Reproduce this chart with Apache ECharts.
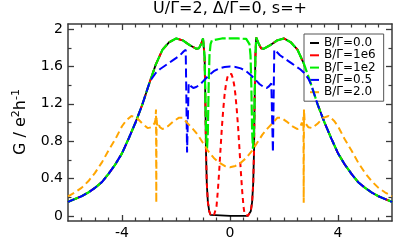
<!DOCTYPE html>
<html><head><meta charset="utf-8">
<script src="https://cdn.jsdelivr.net/npm/echarts@6/dist/echarts.min.js"></script>
<style>html,body{margin:0;padding:0;background:#fff}#c{width:395px;height:240px}</style>
</head><body><div id="c"></div>
<script>
const chartTitle = 'U/Γ=2, Δ/Γ=0, s=+';
const seriesNames = ['B/Γ=0.0', 'B/Γ=1e6', 'B/Γ=1e2', 'B/Γ=0.5', 'B/Γ=2.0'];
const xTickLabels = [-4, 0, 4];
const yTickLabels = [0, 0.4, 0.8, 1.2, 1.6, 2];
const xMinorTicks = [-5.5,-5,-4.5,-3.5,-3,-2.5,-2,-1.5,-1,-0.5,0.5,1,1.5,2,2.5,3,3.5,4.5,5,5.5];
const yMinorTicks = [0.2, 0.6, 1.0, 1.4, 1.8];

// B/Γ=0.0
const xB00 = [-6,-5.75,-5.5,-5.25,-5,-4.75,-4.5,-4.25,-4,-3.75,-3.5,-3.25,-3,-2.75,-2.5,-2.25,-2,-1.75,-1.5,-1.25,-1.15,-1.07,-1,-0.97,-0.94,-0.91,-0.89,-0.86,-0.82,-0.77,-0.72,-0.66,0,0.66,0.72,0.77,0.82,0.86,0.89,0.91,0.94,0.97,1,1.07,1.15,1.25,1.5,1.75,2,2.25,2.5,2.75,3,3.25,3.5,3.75,4,4.25,4.5,4.75,5,5.25,5.5,5.75,6];
const yB00 = [0.15,0.18,0.21,0.25,0.30,0.36,0.45,0.55,0.67,0.83,1.00,1.19,1.41,1.62,1.78,1.86,1.90,1.88,1.83,1.79,1.795,1.84,1.90,1.91,1.70,1.20,0.70,0.35,0.15,0.05,0.01,0,0,0,0.01,0.05,0.15,0.35,0.70,1.20,1.70,1.91,1.90,1.84,1.795,1.79,1.83,1.88,1.90,1.86,1.78,1.62,1.41,1.19,1.00,0.83,0.67,0.55,0.45,0.36,0.30,0.25,0.21,0.18,0.15];

// B/Γ=1e6
const xB1e6 = [-6,-5.75,-5.5,-5.25,-5,-4.75,-4.5,-4.25,-4,-3.75,-3.5,-3.25,-3,-2.75,-2.5,-2.25,-2,-1.75,-1.5,-1.25,-1.15,-1.07,-1,-0.97,-0.94,-0.91,-0.89,-0.86,-0.82,-0.77,-0.72,-0.66,-0.6,-0.54,-0.5,-0.45,-0.4,-0.35,-0.3,-0.25,-0.2,-0.15,-0.1,-0.05,0,0.05,0.1,0.15,0.2,0.25,0.3,0.35,0.4,0.45,0.5,0.54,0.6,0.66,0.72,0.77,0.82,0.86,0.89,0.91,0.94,0.97,1,1.07,1.15,1.25,1.5,1.75,2,2.25,2.5,2.75,3,3.25,3.5,3.75,4,4.25,4.5,4.75,5,5.25,5.5,5.75,6];
const yB1e6 = [0.15,0.18,0.21,0.25,0.30,0.36,0.45,0.55,0.67,0.83,1.00,1.19,1.41,1.62,1.78,1.86,1.90,1.88,1.83,1.79,1.795,1.84,1.90,1.91,1.70,1.20,0.70,0.35,0.15,0.05,0.01,0,0,0.02,0.1,0.27,0.48,0.72,0.95,1.14,1.3,1.41,1.48,1.52,1.53,1.52,1.48,1.41,1.3,1.14,0.95,0.72,0.48,0.27,0.1,0.02,0,0,0.01,0.05,0.15,0.35,0.70,1.20,1.70,1.91,1.90,1.84,1.795,1.79,1.83,1.88,1.90,1.86,1.78,1.62,1.41,1.19,1.00,0.83,0.67,0.55,0.45,0.36,0.30,0.25,0.21,0.18,0.15];

// B/Γ=1e2
const xB1e2 = [-6,-5.75,-5.5,-5.25,-5,-4.75,-4.5,-4.25,-4,-3.75,-3.5,-3.25,-3,-2.75,-2.5,-2.25,-2,-1.75,-1.5,-1.25,-1.15,-1.07,-1,-0.97,-0.94,-0.91,-0.88,-0.85,-0.82,-0.79,-0.76,-0.72,-0.67,-0.6,-0.3,0,0.3,0.6,0.67,0.72,0.76,0.79,0.82,0.85,0.88,0.91,0.94,0.97,1,1.07,1.15,1.25,1.5,1.75,2,2.25,2.5,2.75,3,3.25,3.5,3.75,4,4.25,4.5,4.75,5,5.25,5.5,5.75,6];
const yB1e2 = [0.15,0.18,0.21,0.25,0.30,0.36,0.45,0.55,0.67,0.83,1.00,1.19,1.41,1.62,1.78,1.86,1.90,1.88,1.83,1.79,1.795,1.84,1.90,1.91,1.70,1.20,0.85,0.72,0.9,1.4,1.72,1.84,1.88,1.895,1.9,1.9,1.9,1.895,1.88,1.84,1.72,1.4,0.9,0.72,0.85,1.20,1.70,1.91,1.90,1.84,1.795,1.79,1.83,1.88,1.90,1.86,1.78,1.62,1.41,1.19,1.00,0.83,0.67,0.55,0.45,0.36,0.30,0.25,0.21,0.18,0.15];

// B/Γ=0.5
const xB05 = [-6,-5.75,-5.5,-5.25,-5,-4.75,-4.5,-4.25,-4,-3.75,-3.5,-3.25,-3,-2.9,-2.75,-2.6,-2.45,-2.3,-2.15,-2,-1.85,-1.72,-1.64,-1.59,-1.53,-1.45,-1.36,-1.25,-1.1,-1,-0.8,-0.6,-0.4,-0.2,0,0.2,0.4,0.6,0.8,1,1.1,1.25,1.36,1.45,1.53,1.59,1.64,1.72,1.85,2,2.15,2.3,2.45,2.6,2.75,2.9,3,3.25,3.5,3.75,4,4.25,4.5,4.75,5,5.25,5.5,5.75,6];
const yB05 = [0.15,0.18,0.21,0.25,0.30,0.36,0.45,0.55,0.67,0.83,1.00,1.19,1.41,1.47,1.53,1.57,1.6,1.63,1.66,1.69,1.72,1.76,1.78,0.68,1.42,1.39,1.37,1.38,1.41,1.44,1.5,1.55,1.58,1.595,1.6,1.595,1.58,1.55,1.5,1.44,1.41,1.38,1.37,1.39,1.42,0.68,1.78,1.76,1.72,1.69,1.66,1.63,1.6,1.57,1.53,1.47,1.41,1.19,1.00,0.83,0.67,0.55,0.45,0.36,0.30,0.25,0.21,0.18,0.15];

// B/Γ=2.0
const xB20 = [-6,-5.75,-5.5,-5.25,-5,-4.75,-4.5,-4.25,-4,-3.85,-3.65,-3.45,-3.25,-3.05,-2.9,-2.8,-2.76,-2.74,-2.73,-2.72,-2.7,-2.66,-2.6,-2.5,-2.3,-2.1,-1.9,-1.75,-1.6,-1.4,-1.2,-1,-0.8,-0.6,-0.4,-0.2,0,0.2,0.4,0.6,0.8,1,1.2,1.4,1.6,1.75,1.9,2.1,2.3,2.5,2.6,2.66,2.7,2.72,2.73,2.74,2.76,2.8,2.9,3.05,3.25,3.45,3.65,3.85,4,4.25,4.5,4.75,5,5.25,5.5,5.75,6];
const yB20 = [0.21,0.25,0.30,0.37,0.46,0.57,0.70,0.82,0.96,1.02,1.07,1.05,0.99,0.94,0.95,0.99,1.03,1.14,0.14,1.06,0.97,1.0,0.95,0.93,0.96,1.01,1.05,1.05,1.0,0.94,0.87,0.78,0.69,0.62,0.57,0.535,0.52,0.535,0.57,0.62,0.69,0.78,0.87,0.94,1.0,1.05,1.05,1.01,0.96,0.93,0.95,1.0,0.97,1.06,0.14,1.14,1.03,0.99,0.95,0.94,0.99,1.05,1.07,1.02,0.96,0.82,0.70,0.57,0.46,0.37,0.30,0.25,0.21];

const colors = ['#000000', '#ff0000', '#00ee00', '#0000ff', '#ffa500'];
const dashes = ['solid', [5, 4], [11, 3], [9, 4], [7, 4]];
const dashOffsets = [0, 2, 0, 2, 0];
const widths = [1.8, 2, 2.2, 2, 2];
const xs = [xB00, xB1e6, xB1e2, xB05, xB20];
const ys = [yB00, yB1e6, yB1e2, yB05, yB20];

const FONT = 'DejaVu Sans';
const frame = '#3a3a3a';

function pairs(x, y) { return x.map((v, i) => [v, y[i]]); }

const baseX = {type: 'value', min: -6, max: 6, interval: 2, splitLine: {show: false}};
const baseY = {type: 'value', min: -0.055, max: 2.055, splitLine: {show: false}};
function line(show) { return {show: show, onZero: false, lineStyle: {color: frame, width: 1.5}}; }

const option = {
  animation: false,
  backgroundColor: '#fff',
  grid: {left: 68, right: 3, top: 24, bottom: 17.5, containLabel: false},
  xAxis: [
    Object.assign({}, baseX, {position: 'bottom', axisLine: line(true),
      axisTick: {show: true, inside: true, length: 6, customValues: xTickLabels, lineStyle: {color: frame, width: 1.3}},
      axisLabel: {show: true, customValues: xTickLabels, fontSize: 14, fontFamily: FONT, color: '#000', margin: 5}}),
    Object.assign({}, baseX, {position: 'bottom', axisLine: line(false), axisLabel: {show: false},
      axisTick: {show: true, inside: true, length: 3.5, customValues: xMinorTicks, lineStyle: {color: frame, width: 1.2}}}),
    Object.assign({}, baseX, {position: 'top', axisLine: line(true), axisLabel: {show: false},
      axisTick: {show: true, inside: true, length: 6, customValues: xTickLabels, lineStyle: {color: frame, width: 1.3}}}),
    Object.assign({}, baseX, {position: 'top', axisLine: line(false), axisLabel: {show: false},
      axisTick: {show: true, inside: true, length: 3.5, customValues: xMinorTicks, lineStyle: {color: frame, width: 1.2}}})
  ],
  yAxis: [
    Object.assign({}, baseY, {position: 'left', axisLine: line(true),
      axisTick: {show: true, inside: true, length: 6, customValues: yTickLabels, lineStyle: {color: frame, width: 1.3}},
      axisLabel: {show: true, customValues: yTickLabels, fontSize: 14, fontFamily: FONT, color: '#000', margin: 5}}),
    Object.assign({}, baseY, {position: 'left', axisLine: line(false), axisLabel: {show: false},
      axisTick: {show: true, inside: true, length: 3.5, customValues: yMinorTicks, lineStyle: {color: frame, width: 1.2}}}),
    Object.assign({}, baseY, {position: 'right', axisLine: line(true), axisLabel: {show: false},
      axisTick: {show: true, inside: true, length: 6, customValues: yTickLabels, lineStyle: {color: frame, width: 1.3}}}),
    Object.assign({}, baseY, {position: 'right', axisLine: line(false), axisLabel: {show: false},
      axisTick: {show: true, inside: true, length: 3.5, customValues: yMinorTicks, lineStyle: {color: frame, width: 1.2}}})
  ],
  legend: {
    orient: 'vertical', left: 304, top: 34,
    data: seriesNames, selectedMode: false,
    icon: 'rect', itemWidth: 9, itemHeight: 2, itemGap: 0.3,
    padding: [3, 8, 3, 6],
    borderColor: '#555', borderWidth: 1, backgroundColor: '#fff',
    textStyle: {fontFamily: FONT, fontSize: 12, color: '#000', lineHeight: 12}
  },
  graphic: [
    {type: 'text', x: 230, y: 1, style: {text: chartTitle, font: '16px "DejaVu Sans"', fill: '#000', align: 'center', verticalAlign: 'top'}},
    {type: 'text', x: 21, y: 122, rotation: Math.PI / 2,
      style: {text: '{n|G / e}{s|2}{n|h}{s|-1}', fill: '#000', align: 'center', verticalAlign: 'middle',
        rich: {n: {fontSize: 16, fontFamily: FONT, lineHeight: 20, fill: '#000'},
               s: {fontSize: 11, fontFamily: FONT, lineHeight: 12, verticalAlign: 'top', fill: '#000'}}}}
  ],
  series: seriesNames.map((name, i) => ({
    name: name, type: 'line', xAxisIndex: 0, yAxisIndex: 0,
    data: pairs(xs[i], ys[i]), showSymbol: false, symbol: 'none', smooth: false,
    color: colors[i],
    lineStyle: {color: colors[i], width: widths[i], type: dashes[i], dashOffset: dashOffsets[i]},
    z: 2 + i
  }))
};

const chart = echarts.init(document.getElementById('c'), null, {renderer: 'canvas'});
chart.setOption(option);
</script>
</body></html>
